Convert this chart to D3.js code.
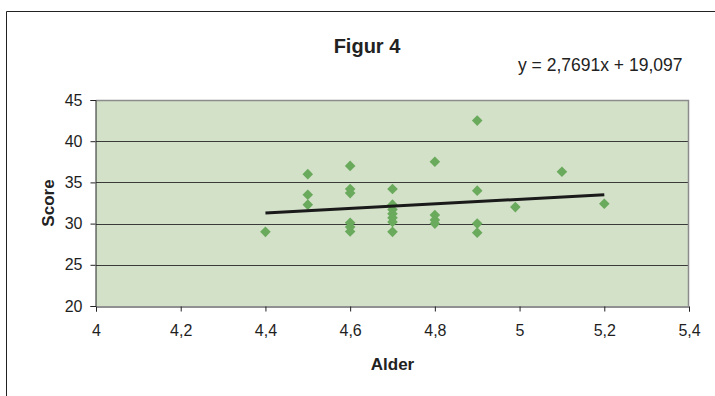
<!DOCTYPE html>
<html>
<head>
<meta charset="utf-8">
<script src="https://cdn.jsdelivr.net/npm/d3@7"></script>
<style>
  html, body { margin: 0; padding: 0; background: #fff; }
  svg { display: block; font-family: "Liberation Sans", Arial, sans-serif; }
  .axis text { font-size: 16px; font-family: "Liberation Sans", Arial, sans-serif; fill: #1e1e1e; }
</style>
</head>
<body>
<svg id="chart" width="715" height="396"></svg>
<script>
// ---- Data ----
const alder = [4.4, 4.5, 4.5, 4.5, 4.6, 4.6, 4.6, 4.6, 4.6, 4.6,
               4.7, 4.7, 4.7, 4.7, 4.7, 4.7, 4.7,
               4.8, 4.8, 4.8, 4.8, 4.9, 4.9, 4.9, 4.9, 4.99, 5.1, 5.2];
const score = [29, 36, 33.5, 32.3, 37, 34.2, 33.7, 30.1, 29.6, 29.05,
               34.2, 32.3, 31.7, 31.2, 30.7, 30.2, 29,
               37.5, 31.05, 30.45, 30, 42.5, 34, 30, 28.9, 32, 36.3, 32.4];
const trendSlope = 2.7691;
const trendIntercept = 19.097;
const trendRange = [4.4, 5.2];
const xTicks = [4, 4.2, 4.4, 4.6, 4.8, 5, 5.2, 5.4];
const yTicks = [20, 25, 30, 35, 40, 45];
const titleText = "Figur 4";
const equationText = "y = 2,7691x + 19,097";
const xTitle = "Alder";
const yTitle = "Score";

// ---- Layout ----
const svg = d3.select("#chart");
const L = 96, R = 689, T = 100, B = 306;

const x = d3.scaleLinear().domain([4, 5.4]).range([L, R]);
const y = d3.scaleLinear().domain([20, 45]).range([B, T]);
const fmt = d => String(d).replace(".", ",");

// outer frame
svg.append("path")
  .attr("d", `M6.5,396 V11.5 H715`)
  .attr("fill", "none").attr("stroke", "#222").attr("stroke-width", 1);

// plot background
svg.append("rect")
  .attr("x", L).attr("y", T).attr("width", R - L).attr("height", B - T)
  .attr("fill", "#d3e1c9");

// gridlines
svg.append("g").selectAll("line")
  .data(yTicks.filter(d => d > 20 && d < 45))
  .join("line")
  .attr("x1", L).attr("x2", R)
  .attr("y1", d => Math.round(y(d)) + 0.5).attr("y2", d => Math.round(y(d)) + 0.5)
  .attr("stroke", "#3a3a3a").attr("stroke-width", 1);

// top & right border (gray)
svg.append("path")
  .attr("d", `M${L},${T + 0.5} H${R - 0.5} V${B}`)
  .attr("fill", "none").attr("stroke", "#8c8c8c").attr("stroke-width", 1.5);

// axes
const xAxis = svg.append("g").attr("class", "axis")
  .attr("transform", `translate(0,${B + 0.5})`)
  .call(d3.axisBottom(x).tickValues(xTicks).tickFormat(fmt).tickSize(5).tickPadding(13));
const yAxis = svg.append("g").attr("class", "axis")
  .attr("transform", `translate(${L - 0.5},0)`)
  .call(d3.axisLeft(y).tickValues(yTicks).tickFormat(d => d).tickSize(5).tickPadding(8));

[xAxis, yAxis].forEach(g => {
  g.attr("font-size", 16).attr("font-family", "'Liberation Sans', Arial, sans-serif");
  g.select(".domain").attr("stroke", "#222");
  g.selectAll(".tick line").attr("stroke", "#222");
  g.selectAll(".tick text").attr("fill", "#1e1e1e").attr("font-size", 16);
});

// points (diamonds)
const pts = alder.map((a, i) => ({ a, s: score[i] }));
const r = 5.3;
svg.append("g").selectAll("path")
  .data(pts)
  .join("path")
  .attr("transform", d => `translate(${x(d.a)},${y(d.s)})`)
  .attr("d", `M0,${-r} L${r},0 L0,${r} L${-r},0 Z`)
  .attr("fill", "#6aaa5c");

// trend line
svg.append("line")
  .attr("x1", x(trendRange[0])).attr("y1", y(trendSlope * trendRange[0] + trendIntercept))
  .attr("x2", x(trendRange[1])).attr("y2", y(trendSlope * trendRange[1] + trendIntercept))
  .attr("stroke", "#1a1a1a").attr("stroke-width", 3);

// title
svg.append("text")
  .attr("x", 367).attr("y", 53)
  .attr("text-anchor", "middle")
  .attr("font-weight", "bold").attr("font-size", 20).attr("fill", "#222")
  .text(titleText);

// equation
svg.append("text")
  .attr("x", 518).attr("y", 71)
  .attr("font-size", 17.5).attr("fill", "#222")
  .text(equationText);

// axis titles
svg.append("text")
  .attr("x", (L + R) / 2).attr("y", 370)
  .attr("text-anchor", "middle")
  .attr("font-weight", "bold").attr("font-size", 17).attr("fill", "#222")
  .text(xTitle);

svg.append("text")
  .attr("transform", `translate(54,${(T + B) / 2}) rotate(-90)`)
  .attr("text-anchor", "middle")
  .attr("font-weight", "bold").attr("font-size", 17).attr("fill", "#222")
  .text(yTitle);
</script>
</body>
</html>
